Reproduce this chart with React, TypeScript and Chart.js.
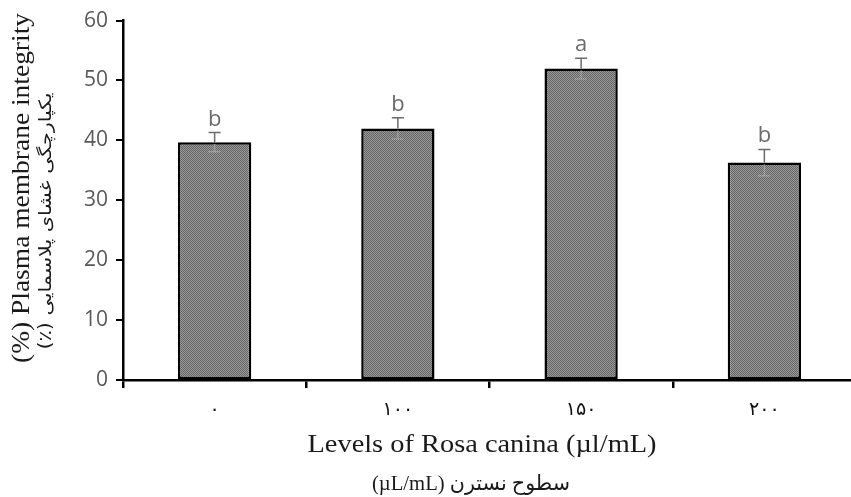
import React, { useEffect, useRef } from "react";
import { Chart, registerables } from "chart.js";

Chart.register(...registerables);

const categories = ["۰", "۱۰۰", "۱۵۰", "۲۰۰"];
const values = [39.7, 42.0, 52.0, 36.3];
const errors = [1.6, 1.8, 1.7, 2.2];
const letters = ["b", "b", "a", "b"];
const yTicks = { min: 0, max: 60, step: 10 };

const yTitleEn = "(%) Plasma membrane integrity";
const yTitleFa = "(٪) یکپارچگی غشای پلاسمایی";
const xTitleEn = "Levels of Rosa canina (µl/mL)";
const xTitleFa = "(µL/mL) سطوح نسترن";

function makePattern(): CanvasPattern | string {
  const c = document.createElement("canvas");
  c.width = 2;
  c.height = 2;
  const g = c.getContext("2d");
  if (!g) return "#808080";
  g.fillStyle = "#9a9a9a";
  g.fillRect(0, 0, 2, 2);
  g.fillStyle = "#646464";
  g.fillRect(0, 0, 1, 1);
  g.fillRect(1, 1, 1, 1);
  return g.createPattern(c, "repeat") || "#808080";
}

function drawFitted(ctx: CanvasRenderingContext2D, text: string, font: string, target: number) {
  ctx.font = font;
  const w = ctx.measureText(text).width;
  const s = w > 0 ? target / w : 1;
  ctx.save();
  ctx.scale(s, 1);
  ctx.fillText(text, 0, 0);
  ctx.restore();
}

const errorPlugin = {
  id: "errorBars",
  afterDatasetsDraw(chart: any) {
    const ctx = chart.ctx as CanvasRenderingContext2D;
    const meta = chart.getDatasetMeta(0);
    const ys = chart.scales.y;
    meta.data.forEach((bar: any, i: number) => {
      const x = bar.x;
      const top = ys.getPixelForValue(values[i]);
      const hi = ys.getPixelForValue(values[i] + errors[i]);
      const lo = ys.getPixelForValue(values[i] - errors[i]);
      ctx.save();
      ctx.strokeStyle = "#6b6b6b";
      ctx.lineWidth = 1.5;
      ctx.beginPath();
      ctx.moveTo(x, top);
      ctx.lineTo(x, hi);
      ctx.moveTo(x - 6, hi);
      ctx.lineTo(x + 6, hi);
      ctx.stroke();
      ctx.setLineDash([1, 1]);
      ctx.strokeStyle = "#b5b5b5";
      ctx.beginPath();
      ctx.moveTo(x, top + 2);
      ctx.lineTo(x, lo);
      ctx.moveTo(x - 6, lo);
      ctx.lineTo(x + 6, lo);
      ctx.stroke();
      ctx.setLineDash([]);
      ctx.fillStyle = "#6b6b6b";
      ctx.font = '22px "Open Sans"';
      ctx.textAlign = "center";
      ctx.textBaseline = "alphabetic";
      ctx.fillText(letters[i], x, hi - 7);
      ctx.restore();
    });
  },
};

const titlePlugin = {
  id: "axisTitles",
  afterDraw(chart: any) {
    const ctx = chart.ctx as CanvasRenderingContext2D;
    ctx.save();
    ctx.fillStyle = "#1a1a1a";
    ctx.textAlign = "center";
    ctx.textBaseline = "middle";
    // Y titles
    ctx.save();
    ctx.translate(22, 188);
    ctx.rotate(-Math.PI / 2);
    drawFitted(ctx, yTitleEn, '26px "Liberation Serif"', 350);
    ctx.restore();
    ctx.save();
    ctx.translate(47, 221);
    ctx.rotate(-Math.PI / 2);
    drawFitted(ctx, yTitleFa, '17px "DejaVu Sans"', 257);
    ctx.restore();
    // X titles
    ctx.save();
    ctx.translate(482, 445);
    drawFitted(ctx, xTitleEn, '26px "Liberation Serif"', 349);
    ctx.restore();
    ctx.save();
    ctx.translate(471, 484);
    drawFitted(ctx, xTitleFa, '21px "Liberation Serif", "DejaVu Sans"', 198);
    ctx.restore();
    ctx.restore();
  },
};

export default function App() {
  const ref = useRef<HTMLCanvasElement | null>(null);
  useEffect(() => {
    document.body.style.margin = "0";
    document.documentElement.style.overflow = "hidden";
    document.body.style.overflow = "hidden";
    const canvas = ref.current;
    if (!canvas) return;
    const chart = new Chart(canvas, {
      type: "bar",
      data: {
        labels: categories,
        datasets: [
          {
            data: values,
            backgroundColor: makePattern() as any,
            borderColor: "#000000",
            borderWidth: 2.5,
            borderSkipped: false,
            barPercentage: 0.4,
            categoryPercentage: 1,
          },
        ],
      },
      options: {
        responsive: false,
        animation: false,
        devicePixelRatio: 1,
        layout: { padding: { top: 20, right: 2, left: 0, bottom: 0 } },
        plugins: {
          legend: { display: false },
          tooltip: { enabled: false },
          title: { display: false },
        },
        scales: {
          x: {
            offset: true,
            grid: {
              offset: true,
              drawOnChartArea: false,
              drawTicks: true,
              tickLength: 8,
              color: "#000000",
              lineWidth: 2.5,
            },
            border: { display: true, color: "#000000", width: 2.5 },
            ticks: {
              color: "#111111",
              font: { family: '"Liberation Serif", "DejaVu Sans"', size: 19 },
              padding: 11,
              maxRotation: 0,
            },
            afterFit(scale: any) {
              scale.height = 117;
            },
          },
          y: {
            min: yTicks.min,
            max: yTicks.max,
            ticks: {
              stepSize: yTicks.step,
              color: "#595959",
              font: { family: '"Open Sans"', size: 21 },
              padding: 8,
            },
            grid: {
              drawOnChartArea: false,
              drawTicks: true,
              tickLength: 7,
              color: "#000000",
              lineWidth: 2,
            },
            border: { display: true, color: "#000000", width: 2.5 },
            afterFit(scale: any) {
              scale.width = 123;
            },
          },
        },
      },
      plugins: [errorPlugin, titlePlugin],
    });
    return () => chart.destroy();
  }, []);
  return (
    <div style={{ width: 858, height: 497, overflow: "hidden" }}>
      <canvas ref={ref} width={858} height={497} style={{ display: "block" }} />
    </div>
  );
}
